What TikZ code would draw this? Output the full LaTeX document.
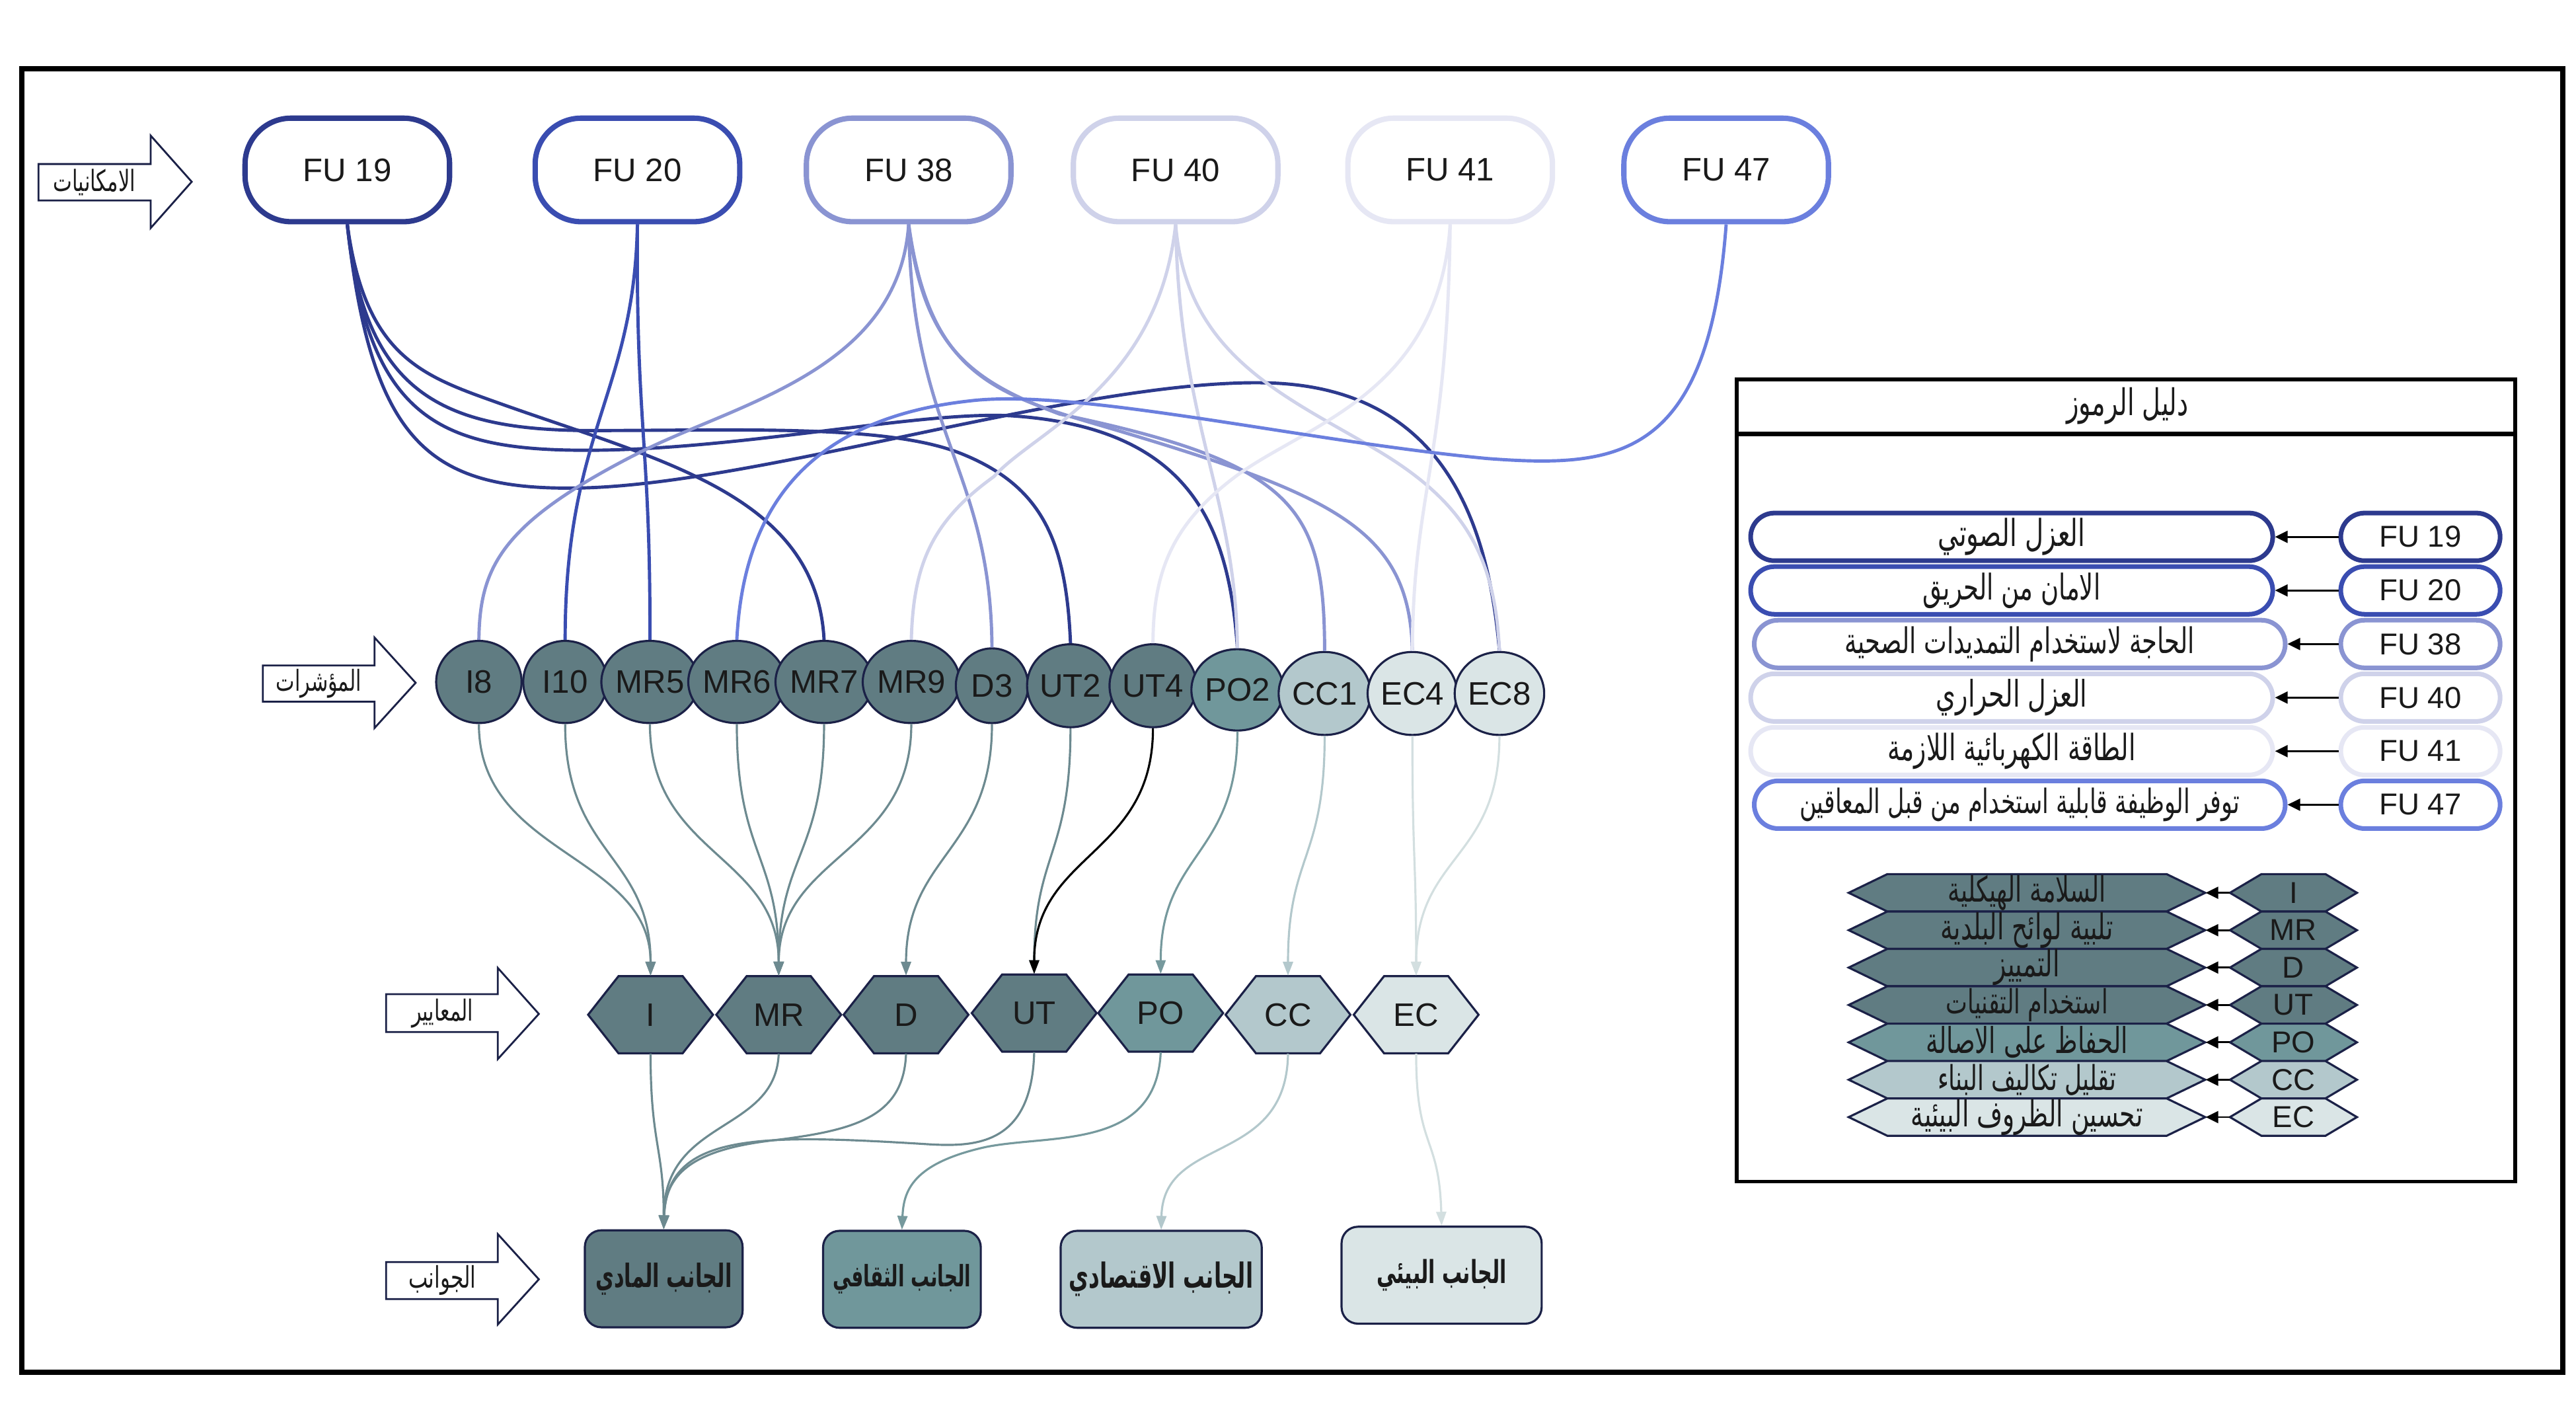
\documentclass[tikz,border=0pt]{standalone}
\usepackage{fontspec}
\usepackage{graphicx}
\setmainfont{Liberation Sans}
\newfontfamily\arabicfont[Script=Arabic]{DejaVu Sans}
\TeXXeTstate=1
\usetikzlibrary{arrows.meta,shapes.geometric}
\newlength\uu \setlength\uu{0.2486mm}
\definecolor{cA}{HTML}{2D3A8E}
\definecolor{cB}{HTML}{3A4DB1}
\definecolor{cC}{HTML}{8A94D2}
\definecolor{cD}{HTML}{CFD2EA}
\definecolor{cE}{HTML}{E6E7F4}
\definecolor{cF}{HTML}{6B7FDE}
\definecolor{tA}{HTML}{607C82}
\definecolor{tB}{HTML}{70979B}
\definecolor{tC}{HTML}{B3C8CC}
\definecolor{tD}{HTML}{DAE5E6}
\definecolor{nv}{HTML}{1B2147}
\definecolor{txt}{HTML}{1A1A1A}
\definecolor{gA}{HTML}{6D8A90}
\definecolor{gB}{HTML}{76999D}
\definecolor{gC}{HTML}{B3C8CC}
\definecolor{gD}{HTML}{D3DFE0}
\newcommand\AR[2]{\resizebox{#1\uu}{!}{\scalebox{1}[1.45]{\arabicfont #2}}}
\newcommand\ARB[2]{\resizebox{#1\uu}{!}{\scalebox{1}[1.6]{\arabicfont\bfseries #2}}}
\newcommand\hexpath[6]{\filldraw[fill=#6, draw=nv, line width=0.9pt] ({#1-#3},{#2}) -- ({#1-#4},{#2-#5}) -- ({#1+#4},{#2-#5}) -- ({#1+#3},{#2}) -- ({#1+#4},{#2+#5}) -- ({#1-#4},{#2+#5}) -- cycle;}
\tikzset{
  fubox/.style={draw=#1, fill=white, line width=2.3pt, rounded corners=28\uu, minimum width=124.5\uu, minimum height=63\uu, inner sep=0, font=\fontsize{14}{16}\selectfont},
  ind/.style={ellipse, draw=nv, fill=#1, line width=0.9pt, inner sep=0, font=\fontsize{14}{16}\selectfont},
  crit/.style={minimum width=40\uu, minimum height=47\uu, inner sep=0, font=\fontsize{14}{16}\selectfont},
  aspect/.style={draw=nv, fill=#1, line width=0.9pt, rounded corners=10\uu, minimum height=59\uu, inner sep=0},
  fuline/.style={line width=1.4pt, draw=#1},
  ia/.style={line width=0.9pt, draw=#1, -{Triangle[length=2.1mm,width=1.5mm]}},
  lpill/.style={draw=#1, fill=white, line width=2pt, rounded corners=14.5\uu, minimum height=29\uu, inner sep=0},
  lsmall/.style={minimum width=77.3\uu, minimum height=22.75\uu, inner sep=0, font=\fontsize{13}{15}\selectfont},
  lbig/.style={minimum width=217\uu, minimum height=22.75\uu, inner sep=0},
  legarrow/.style={line width=0.8pt, black, -{Triangle[length=1.9mm,width=1.8mm]}},
  blockarrow/.style={draw=nv, fill=white, line width=0.8pt},
  every node/.style={text=txt}
}
\begin{document}
\begin{tikzpicture}[x=0.2486mm,y=-0.2486mm]
\useasboundingbox (0,0) rectangle (1568,854);
\fill[white] (0,0) rectangle (1568,854);
\draw[line width=2.3pt] (13.3,42) rectangle (1560,835);

% left block arrows
\draw[blockarrow] (23.4,99.8) -- (91.7,99.8) -- (91.7,82.5) -- (116.7,110.6) -- (91.7,138.8) -- (91.7,122) -- (23.4,122) -- cycle;
\node (lab1) at (57.5,110.9) {\AR{50}{\beginR الامكانيات\endR}};
\draw[blockarrow] (160,405) -- (228,405) -- (228,388) -- (253,415.5) -- (228,443) -- (228,427) -- (160,427) -- cycle;
\node (lab2) at (194,416) {\AR{52}{\beginR المؤشرات\endR}};
\draw[blockarrow] (235,605) -- (303,605) -- (303,589) -- (328,617) -- (303,644.5) -- (303,628) -- (235,628) -- cycle;
\node (lab3) at (269.4,616.7) {\AR{37.5}{\beginR المعايير\endR}};
\draw[blockarrow] (235,768) -- (303,768) -- (303,751) -- (328,778.5) -- (303,806) -- (303,790.5) -- (235,790.5) -- cycle;
\node (lab4) at (269.2,779) {\AR{41}{\beginR الجوانب\endR}};

% top FU nodes
\node[fubox=cA] (fu19) at (211.4,103.4) {FU 19};
\node[fubox=cB] (fu20) at (388,103.4) {FU 20};
\node[fubox=cC] (fu38) at (553.1,103.4) {FU 38};
\node[fubox=cD] (fu40) at (715.6,103.4) {FU 40};
\node[fubox=cE] (fu41) at (882.7,103.4) {FU 41};
\node[fubox=cF] (fu47) at (1050.7,103.4) {FU 47};

% indicators
\node[ind=tA, minimum width=52\uu, minimum height=50\uu] (i8) at (291.5,415) {I8};
\node[ind=tA, minimum width=51\uu, minimum height=50\uu] (i10) at (344,415) {I10};
\node[ind=tA, minimum width=52\uu, minimum height=50\uu] (mr5) at (395.6,415) {MR5};
\node[ind=tA, minimum width=52\uu, minimum height=50\uu] (mr6) at (448.5,415) {MR6};
\node[ind=tA, minimum width=52\uu, minimum height=50\uu] (mr7) at (501.6,415) {MR7};
\node[ind=tA, minimum width=52\uu, minimum height=50\uu] (mr9) at (554.7,415) {MR9};
\node[ind=tA, minimum width=44\uu, minimum height=45.5\uu] (d3) at (603.8,417.3) {D3};
\node[ind=tA, minimum width=49\uu, minimum height=50.5\uu] (ut2) at (651.6,417.3) {UT2};
\node[ind=tA, minimum width=49.5\uu, minimum height=50.5\uu] (ut4) at (701.8,417.3) {UT4};
\node[ind=tB, minimum width=52.5\uu, minimum height=49.5\uu] (po2) at (753.2,419.8) {PO2};
\node[ind=tC, minimum width=52.5\uu, minimum height=50.5\uu] (cc1) at (806.3,422) {CC1};
\node[ind=tD, minimum width=52.5\uu, minimum height=50.5\uu] (ec4) at (859.7,422) {EC4};
\node[ind=tD, minimum width=52.5\uu, minimum height=50.5\uu] (ec8) at (912.7,422) {EC8};

% FU -> indicators
\draw[fuline=cA] (fu19.south) .. controls (222,215) and (255,228) .. (300,244) .. controls (400,280) and (497,300) .. (mr7.north);
\draw[fuline=cA] (fu19.south) .. controls (222,240) and (270,262) .. (360,262) .. controls (450,262) and (540,258) .. (585,276) .. controls (635,296) and (649,330) .. (ut2.north);
\draw[fuline=cA] (fu19.south) .. controls (224,255) and (268,274) .. (357,274) .. controls (450,274) and (560,250) .. (615,253) .. controls (725,260) and (748,320) .. (po2.north);
\draw[fuline=cA] (fu19.south) .. controls (226,270) and (262,298) .. (350,297) .. controls (460,296) and (660,230) .. (772,233) .. controls (880,236) and (906,320) .. (ec8.north);
\draw[fuline=cB] (fu20.south) .. controls (386,240) and (344,262) .. (i10.north);
\draw[fuline=cB] (fu20.south) .. controls (387,260) and (396,270) .. (mr5.north);
\draw[fuline=cC] (fu38.south) .. controls (547,225) and (450,245) .. (390,275) .. controls (305,318) and (292,345) .. (i8.north);
\draw[fuline=cC] (fu38.south) .. controls (555,265) and (603,285) .. (d3.north);
\draw[fuline=cC] (fu38.south) .. controls (562,212) and (592,232) .. (645,252) .. controls (790,282) and (806,310) .. (cc1.north);
\draw[fuline=cC] (fu38.south) .. controls (565,222) and (600,238) .. (660,256) .. controls (810,300) and (858,320) .. (ec4.north);
\draw[fuline=cD] (fu40.south) .. controls (705,235) and (630,262) .. (605,290) .. controls (566,318) and (556,345) .. (mr9.north);
\draw[fuline=cD] (fu40.south) .. controls (718,260) and (752,300) .. (po2.north);
\draw[fuline=cD] (fu40.south) .. controls (722,218) and (785,242) .. (840,275) .. controls (893,307) and (910,340) .. (ec8.north);
\draw[fuline=cE] (fu41.south) .. controls (876,240) and (795,258) .. (752,290) .. controls (712,320) and (702,350) .. (ut4.north);
\draw[fuline=cE] (fu41.south) .. controls (881,280) and (860,300) .. (ec4.north);
\draw[fuline=cF] (fu47.south) .. controls (1040,280) and (985,285) .. (905,279) .. controls (790,268) and (655,236) .. (590,244) .. controls (482,256) and (452,320) .. (mr6.north);

% criteria hexagons
\hexpath{396}{617.5}{38}{19.5}{23.5}{tA}
\node[crit] (cI) at (396,617.5) {I};
\hexpath{474}{617.5}{38}{19.5}{23.5}{tA}
\node[crit] (cMR) at (474,617.5) {MR};
\hexpath{551.5}{617.5}{38}{19.5}{23.5}{tA}
\node[crit] (cD) at (551.5,617.5) {D};
\hexpath{629.5}{616.5}{38}{19.5}{23.5}{tA}
\node[crit] (cUT) at (629.5,616.5) {UT};
\hexpath{706.5}{616.5}{38}{19.5}{23.5}{tB}
\node[crit] (cPO) at (706.5,616.5) {PO};
\hexpath{784}{617.5}{38}{19.5}{23.5}{tC}
\node[crit] (cCC) at (784,617.5) {CC};
\hexpath{862}{617.5}{38}{19.5}{23.5}{tD}
\node[crit] (cEC) at (862,617.5) {EC};

% indicators -> criteria
\draw[ia=gA] (i8.south) .. controls +(0,80) and +(0,-74) .. (cI.north);
\draw[ia=gA] (i10.south) .. controls +(0,80) and +(0,-74) .. (cI.north);
\draw[ia=gA] (mr5.south) .. controls +(0,80) and +(0,-74) .. (cMR.north);
\draw[ia=gA] (mr6.south) .. controls +(0,80) and +(0,-74) .. (cMR.north);
\draw[ia=gA] (mr7.south) .. controls +(0,80) and +(0,-74) .. (cMR.north);
\draw[ia=gA] (mr9.south) .. controls +(0,80) and +(0,-74) .. (cMR.north);
\draw[ia=gA] (d3.south) .. controls +(0,78) and +(0,-74) .. (cD.north);
\draw[ia=gA] (ut2.south) .. controls +(0,78) and +(0,-74) .. (cUT.north);
\draw[ia=black] (ut4.south) .. controls +(0,78) and +(0,-74) .. (cUT.north);
\draw[ia=gB] (po2.south) .. controls +(0,76) and +(0,-74) .. (cPO.north);
\draw[ia=gC] (cc1.south) .. controls +(0,76) and +(0,-74) .. (cCC.north);
\draw[ia=gD] (ec4.south) .. controls +(0,76) and +(0,-74) .. (cEC.north);
\draw[ia=gD] (ec8.south) .. controls +(0,76) and +(0,-74) .. (cEC.north);

% aspects
\node[aspect=tA, minimum width=96\uu] (aPhys) at (404,778.2) {\ARB{83}{\beginR الجانب المادي\endR}};
\node[aspect=tB, minimum width=96\uu] (aCult) at (549,778.5) {\ARB{84}{\beginR الجانب الثقافي\endR}};
\node[aspect=tC, minimum width=122.4\uu] (aEcon) at (706.8,778.5) {\ARB{112}{\beginR الجانب الاقتصادي\endR}};
\node[aspect=tD, minimum width=121.8\uu] (aEnv) at (877.5,776) {\ARB{79}{\beginR الجانب البيئي\endR}};

% criteria -> aspects
\draw[ia=gA] (cI.south) .. controls +(0,55) and +(0,-50) .. (aPhys.north);
\draw[ia=gA] (cMR.south) .. controls (472,690) and (404,680) .. (aPhys.north);
\draw[ia=gA] (cD.south) .. controls (550,680) and (520,688) .. (470,694) .. controls (420,700) and (405,715) .. (aPhys.north);
\draw[ia=gA] (cUT.south) .. controls (628,700) and (590,698) .. (560,696) .. controls (460,690) and (406,690) .. (aPhys.north);
\draw[ia=gB] (cPO.south) .. controls (704,700) and (640,690) .. (600,698) .. controls (555,708) and (550,725) .. (aCult.north);
\draw[ia=gC] (cCC.south) .. controls (783,710) and (708,690) .. (aEcon.north);
\draw[ia=gD] (cEC.south) .. controls (862,700) and (876,690) .. (aEnv.north);

% legend
\draw[line width=1.6pt] (1057,231) rectangle (1531,719);
\draw[line width=2pt] (1057,264) -- (1531,264);
\node (lhead) at (1295,247) {\AR{74}{\beginR دليل الرموز\endR}};

\node[lpill=cA, minimum width=97\uu, font=\fontsize{13}{15}\selectfont] (ls19) at (1473.3,326.7) {FU 19};
\node[lpill=cA, minimum width=317.8\uu] (lb19) at (1224.5,326.7) {\AR{89.5}{\beginR العزل الصوتي\endR}};
\node[lpill=cB, minimum width=97\uu, font=\fontsize{13}{15}\selectfont] (ls20) at (1473.3,359.3) {FU 20};
\node[lpill=cB, minimum width=317.8\uu] (lb20) at (1224.5,359.3) {\AR{108}{\beginR الامان من الحريق\endR}};
\node[lpill=cC, minimum width=97\uu, font=\fontsize{13}{15}\selectfont] (ls38) at (1473.3,391.9) {FU 38};
\node[lpill=cC, minimum width=323.2\uu] (lb38) at (1229.4,391.9) {\AR{213}{\beginR الحاجة لاستخدام التمديدات الصحية\endR}};
\node[lpill=cD, minimum width=97\uu, font=\fontsize{13}{15}\selectfont] (ls40) at (1473.3,424.5) {FU 40};
\node[lpill=cD, minimum width=317.8\uu] (lb40) at (1224.5,424.5) {\AR{92}{\beginR العزل الحراري\endR}};
\node[lpill=cE, minimum width=97\uu, font=\fontsize{13}{15}\selectfont] (ls41) at (1473.3,457.1) {FU 41};
\node[lpill=cE, minimum width=317.8\uu] (lb41) at (1224.5,457.1) {\AR{151}{\beginR الطاقة الكهربائية اللازمة\endR}};
\node[lpill=cF, minimum width=97\uu, font=\fontsize{13}{15}\selectfont] (ls47) at (1473.3,489.7) {FU 47};
\node[lpill=cF, minimum width=323.2\uu] (lb47) at (1229.4,489.7) {\AR{268}{\beginR توفر الوظيفة قابلية استخدام من قبل المعاقين\endR}};
\draw[legarrow] (ls19.west) -- (lb19.east);
\draw[legarrow] (ls20.west) -- (lb20.east);
\draw[legarrow] (ls38.west) -- (lb38.east);
\draw[legarrow] (ls40.west) -- (lb40.east);
\draw[legarrow] (ls41.west) -- (lb41.east);
\draw[legarrow] (ls47.west) -- (lb47.east);

% legend criteria rows
\hexpath{1233.8}{543.3}{108.5}{85}{11.375}{tA}
\hexpath{1396}{543.3}{38.65}{19.5}{11.375}{tA}
\node[lbig] (lbI) at (1233.8,543.3) {\AR{96}{\beginR السلامة الهيكلية\endR}};
\node[lsmall] (lsI) at (1396,543.3) {I};
\hexpath{1233.8}{566.05}{108.5}{85}{11.375}{tA}
\hexpath{1396}{566.05}{38.65}{19.5}{11.375}{tA}
\node[lbig] (lbMR) at (1233.8,566.05) {\AR{105}{\beginR تلبية لوائح البلدية\endR}};
\node[lsmall] (lsMR) at (1396,566.05) {MR};
\hexpath{1233.8}{588.8}{108.5}{85}{11.375}{tA}
\hexpath{1396}{588.8}{38.65}{19.5}{11.375}{tA}
\node[lbig] (lbD) at (1233.8,588.8) {\AR{40}{\beginR التمييز\endR}};
\node[lsmall] (lsD) at (1396,588.8) {D};
\hexpath{1233.8}{611.55}{108.5}{85}{11.375}{tA}
\hexpath{1396}{611.55}{38.65}{19.5}{11.375}{tA}
\node[lbig] (lbUT) at (1233.8,611.55) {\AR{98.6}{\beginR استخدام التقنيات\endR}};
\node[lsmall] (lsUT) at (1396,611.55) {UT};
\hexpath{1233.8}{634.3}{108.5}{85}{11.375}{tB}
\hexpath{1396}{634.3}{38.65}{19.5}{11.375}{tB}
\node[lbig] (lbPO) at (1233.8,634.3) {\AR{123}{\beginR الحفاظ على الاصالة\endR}};
\node[lsmall] (lsPO) at (1396,634.3) {PO};
\hexpath{1233.8}{657.05}{108.5}{85}{11.375}{tC}
\hexpath{1396}{657.05}{38.65}{19.5}{11.375}{tC}
\node[lbig] (lbCC) at (1233.8,657.05) {\AR{108.7}{\beginR تقليل تكاليف البناء\endR}};
\node[lsmall] (lsCC) at (1396,657.05) {CC};
\hexpath{1233.8}{679.8}{108.5}{85}{11.375}{tD}
\hexpath{1396}{679.8}{38.65}{19.5}{11.375}{tD}
\node[lbig] (lbEC) at (1233.8,679.8) {\AR{141}{\beginR تحسين الظروف البيئية\endR}};
\node[lsmall] (lsEC) at (1396,679.8) {EC};
\draw[legarrow] (lsI.west) -- (lbI.east);
\draw[legarrow] (lsMR.west) -- (lbMR.east);
\draw[legarrow] (lsD.west) -- (lbD.east);
\draw[legarrow] (lsUT.west) -- (lbUT.east);
\draw[legarrow] (lsPO.west) -- (lbPO.east);
\draw[legarrow] (lsCC.west) -- (lbCC.east);
\draw[legarrow] (lsEC.west) -- (lbEC.east);
\end{tikzpicture}
\end{document}
